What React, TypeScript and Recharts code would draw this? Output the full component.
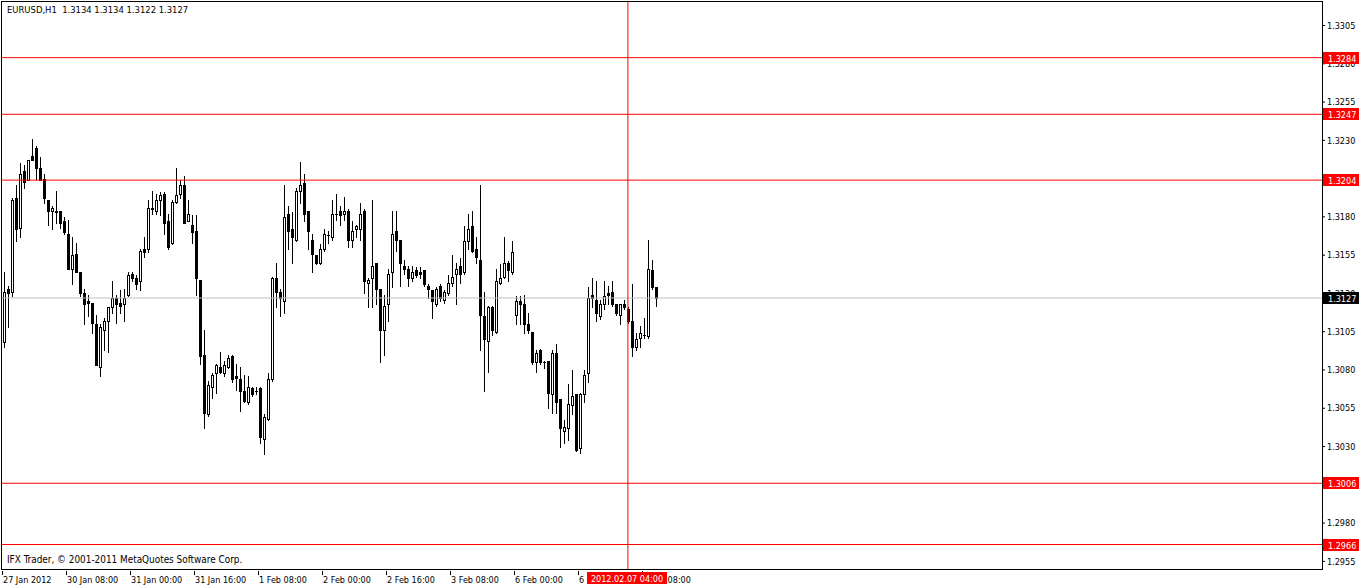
import { ComposedChart, Bar, XAxis, YAxis, ReferenceLine } from 'recharts'

const FONT = "'DejaVu Sans Condensed', 'Liberation Sans', sans-serif"

// EURUSD H1, first bar 27 Jan 2012 16:00, last 7 Feb 2012 11:00
const opens = [
  1.3098, 1.3133, 1.3131, 1.3192, 1.3173, 1.3210, 1.3204, 1.3220, 1.3225, 1.3212, 1.3205, 1.3191, 1.3184, 1.3184, 1.3184, 1.3177,
  1.3169, 1.3146, 1.3156, 1.3144, 1.3130, 1.3125, 1.3124, 1.3110, 1.3082, 1.3106, 1.3112, 1.3121, 1.3127, 1.3124, 1.3123, 1.3129,
  1.3143, 1.3140, 1.3138, 1.3159, 1.3159, 1.3185, 1.3184, 1.3191, 1.3195, 1.3177, 1.3163, 1.3190, 1.3195, 1.3201, 1.3177, 1.3175,
  1.3171, 1.3139, 1.3090, 1.3051, 1.3069, 1.3078, 1.3082, 1.3078, 1.3082, 1.3089, 1.3076, 1.3074, 1.3066, 1.3059, 1.3068, 1.3066,
  1.3068, 1.3035, 1.3048, 1.3074, 1.3140, 1.3131, 1.3125, 1.3182, 1.3172, 1.3165, 1.3197, 1.3202, 1.3184, 1.3165, 1.3155, 1.3150,
  1.3159, 1.3168, 1.3167, 1.3182, 1.3184, 1.3182, 1.3184, 1.3165, 1.3172, 1.3172, 1.3184, 1.3137, 1.3140, 1.3150, 1.3133, 1.3106,
  1.3123, 1.3144, 1.3171, 1.3165, 1.3148, 1.3146, 1.3140, 1.3145, 1.3144, 1.3145, 1.3135, 1.3132, 1.3123, 1.3135, 1.3126, 1.3130,
  1.3137, 1.3143, 1.3148, 1.3144, 1.3164, 1.3174, 1.3159, 1.3152, 1.3115, 1.3099, 1.3121, 1.3105, 1.3137, 1.3141, 1.3150, 1.3144,
  1.3116, 1.3125, 1.3123, 1.3110, 1.3105, 1.3085, 1.3093, 1.3085, 1.3086, 1.3064, 1.3091, 1.3061, 1.3040, 1.3042, 1.3057, 1.3064,
  1.3029, 1.3064, 1.3078, 1.3129, 1.3126, 1.3115, 1.3123, 1.3130, 1.3131, 1.3123, 1.3116, 1.3123, 1.3120, 1.3112, 1.3095, 1.3101,
  1.3103, 1.3102, 1.3145, 1.3134,
]
const highs = [
  1.3144, 1.3135, 1.3192, 1.3201, 1.3215, 1.3214, 1.3217, 1.3231, 1.3226, 1.3219, 1.3208, 1.3191, 1.3187, 1.3197, 1.3184, 1.3180,
  1.3178, 1.3167, 1.3163, 1.3144, 1.3133, 1.3129, 1.3124, 1.3116, 1.3110, 1.3114, 1.3121, 1.3138, 1.3129, 1.3132, 1.3133, 1.3144,
  1.3144, 1.3142, 1.3159, 1.3167, 1.3191, 1.3197, 1.3195, 1.3196, 1.3196, 1.3182, 1.3191, 1.3212, 1.3204, 1.3207, 1.3191, 1.3181,
  1.3181, 1.3139, 1.3106, 1.3073, 1.3078, 1.3084, 1.3092, 1.3086, 1.3090, 1.3090, 1.3084, 1.3082, 1.3077, 1.3076, 1.3069, 1.3069,
  1.3069, 1.3051, 1.3078, 1.3141, 1.3150, 1.3133, 1.3201, 1.3187, 1.3183, 1.3199, 1.3216, 1.3208, 1.3184, 1.3169, 1.3155, 1.3162,
  1.3172, 1.3171, 1.3191, 1.3195, 1.3187, 1.3193, 1.3185, 1.3177, 1.3175, 1.3189, 1.3185, 1.3140, 1.3191, 1.3150, 1.3133, 1.3129,
  1.3146, 1.3184, 1.3184, 1.3165, 1.3152, 1.3148, 1.3148, 1.3147, 1.3147, 1.3145, 1.3136, 1.3132, 1.3134, 1.3136, 1.3132, 1.3142,
  1.3155, 1.3150, 1.3153, 1.3174, 1.3182, 1.3184, 1.3167, 1.3201, 1.3131, 1.3122, 1.3122, 1.3146, 1.3149, 1.3167, 1.3151, 1.3164,
  1.3128, 1.3128, 1.3129, 1.3117, 1.3105, 1.3093, 1.3094, 1.3086, 1.3086, 1.3093, 1.3097, 1.3061, 1.3047, 1.3071, 1.3080, 1.3064,
  1.3065, 1.3080, 1.3134, 1.3140, 1.3138, 1.3126, 1.3138, 1.3135, 1.3138, 1.3123, 1.3123, 1.3126, 1.3121, 1.3136, 1.3104, 1.3109,
  1.3114, 1.3165, 1.3152, 1.3134,
]
const lows = [
  1.3095, 1.3108, 1.3128, 1.3164, 1.3167, 1.3199, 1.3204, 1.3217, 1.3205, 1.3204, 1.3189, 1.3175, 1.3172, 1.3176, 1.3173, 1.3169,
  1.3146, 1.3136, 1.3144, 1.3128, 1.3110, 1.3115, 1.3104, 1.3083, 1.3076, 1.3093, 1.3092, 1.3117, 1.3111, 1.3117, 1.3112, 1.3128,
  1.3138, 1.3133, 1.3132, 1.3154, 1.3157, 1.3182, 1.3182, 1.3181, 1.3169, 1.3159, 1.3162, 1.3189, 1.3192, 1.3176, 1.3177, 1.3163,
  1.3129, 1.3084, 1.3042, 1.3050, 1.3062, 1.3065, 1.3078, 1.3076, 1.3081, 1.3072, 1.3067, 1.3053, 1.3059, 1.3058, 1.3063, 1.3064,
  1.3032, 1.3025, 1.3047, 1.3073, 1.3121, 1.3115, 1.3117, 1.3159, 1.3150, 1.3164, 1.3189, 1.3177, 1.3159, 1.3144, 1.3149, 1.3149,
  1.3158, 1.3163, 1.3165, 1.3178, 1.3175, 1.3178, 1.3160, 1.3160, 1.3167, 1.3165, 1.3130, 1.3121, 1.3121, 1.3123, 1.3085, 1.3090,
  1.3112, 1.3134, 1.3158, 1.3135, 1.3143, 1.3135, 1.3138, 1.3141, 1.3140, 1.3135, 1.3127, 1.3114, 1.3122, 1.3125, 1.3124, 1.3129,
  1.3135, 1.3123, 1.3137, 1.3143, 1.3159, 1.3157, 1.3150, 1.3093, 1.3066, 1.3079, 1.3103, 1.3104, 1.3136, 1.3140, 1.3138, 1.3143,
  1.3110, 1.3110, 1.3104, 1.3104, 1.3084, 1.3079, 1.3084, 1.3081, 1.3055, 1.3052, 1.3052, 1.3030, 1.3032, 1.3034, 1.3051, 1.3027,
  1.3026, 1.3059, 1.3072, 1.3121, 1.3112, 1.3113, 1.3120, 1.3123, 1.3122, 1.3116, 1.3110, 1.3120, 1.3111, 1.3089, 1.3093, 1.3095,
  1.3101, 1.3101, 1.3133, 1.3122,
]
const closes = [
  1.3131, 1.3130, 1.3191, 1.3172, 1.3208, 1.3203, 1.3217, 1.3217, 1.3212, 1.3204, 1.3192, 1.3184, 1.3186, 1.3183, 1.3176, 1.3170,
  1.3146, 1.3155, 1.3144, 1.3130, 1.3123, 1.3124, 1.3111, 1.3083, 1.3108, 1.3112, 1.3121, 1.3127, 1.3123, 1.3122, 1.3127, 1.3142,
  1.3140, 1.3136, 1.3158, 1.3157, 1.3186, 1.3186, 1.3191, 1.3194, 1.3176, 1.3160, 1.3190, 1.3194, 1.3201, 1.3176, 1.3182, 1.3170,
  1.3140, 1.3089, 1.3052, 1.3070, 1.3077, 1.3083, 1.3079, 1.3083, 1.3088, 1.3074, 1.3075, 1.3066, 1.3060, 1.3069, 1.3064, 1.3066,
  1.3036, 1.3049, 1.3074, 1.3140, 1.3131, 1.3127, 1.3180, 1.3171, 1.3167, 1.3197, 1.3201, 1.3182, 1.3171, 1.3156, 1.3150, 1.3159,
  1.3169, 1.3168, 1.3182, 1.3182, 1.3181, 1.3184, 1.3165, 1.3171, 1.3174, 1.3182, 1.3138, 1.3139, 1.3148, 1.3133, 1.3106, 1.3122,
  1.3143, 1.3169, 1.3165, 1.3150, 1.3146, 1.3140, 1.3144, 1.3142, 1.3143, 1.3136, 1.3133, 1.3125, 1.3133, 1.3127, 1.3131, 1.3137,
  1.3141, 1.3146, 1.3143, 1.3164, 1.3172, 1.3158, 1.3154, 1.3116, 1.3100, 1.3121, 1.3106, 1.3138, 1.3140, 1.3150, 1.3145, 1.3157,
  1.3125, 1.3123, 1.3110, 1.3106, 1.3085, 1.3091, 1.3085, 1.3085, 1.3065, 1.3091, 1.3059, 1.3042, 1.3043, 1.3058, 1.3063, 1.3028,
  1.3064, 1.3077, 1.3127, 1.3127, 1.3117, 1.3123, 1.3128, 1.3129, 1.3123, 1.3117, 1.3123, 1.3121, 1.3112, 1.3095, 1.3100, 1.3104,
  1.3103, 1.3146, 1.3134, 1.3127,
]

// bar slots visible across the chart width (data only fills the first part)
const SLOTS = 330

const xTickIdx = [0, 16, 32, 48, 64, 80, 96, 112, 128, 144, 160]
const xTickText = [
  '27 Jan 2012', '30 Jan 08:00', '31 Jan 00:00', '31 Jan 16:00', '1 Feb 08:00', '2 Feb 00:00',
  '2 Feb 16:00', '3 Feb 08:00', '6 Feb 00:00', '6 Feb 16:00', '7 Feb 08:00',
]
const yTicks = [
  1.2955, 1.2980, 1.3005, 1.3030, 1.3055, 1.3080, 1.3105, 1.3130, 1.3155, 1.3180, 1.3205, 1.3230, 1.3255, 1.3280, 1.3305,
]
const levels = [1.3284, 1.3247, 1.3204, 1.3006, 1.2966]
const bid = 1.3127
const crossIdx = 156
const crossText = '2012.02.07 04:00'

const W = 1360
const H = 586
const MARGIN = { top: 1, right: 0, left: 2, bottom: 0 }
const DOMAIN: [number, number] = [1.295, 1.3321]

const data = Array.from({ length: SLOTS }, (_, i) =>
  i < opens.length
    ? { i, o: opens[i], h: highs[i], l: lows[i], c: closes[i], range: [lows[i], highs[i]] }
    : { i, range: null }
)

function Candle(props: any) {
  const { x, y, width, height, payload } = props
  if (!payload || payload.o == null) return null
  const { o, h, l, c } = payload
  const top = Math.min(y, y + height)
  const span = Math.abs(height)
  const k = h === l ? 0 : span / (h - l)
  const yOf = (v: number) => Math.round(top + (h - v) * k)
  const cx = Math.floor(x + width / 2)
  const yH = Math.round(top)
  const yL = Math.round(top + span)
  const bTop = Math.min(yOf(o), yOf(c))
  const bBot = Math.max(yOf(o), yOf(c))
  let body
  if (c < o || bBot - bTop < 2) {
    body = <rect x={cx - 1} y={bTop} width={3} height={Math.max(1, bBot - bTop + 1)} fill="#000" />
  } else {
    body = <rect x={cx - 0.5} y={bTop + 0.5} width={2} height={bBot - bTop} fill="#fff" stroke="#000" strokeWidth={1} />
  }
  return (
    <g shapeRendering="crispEdges">
      <rect x={cx} y={yH} width={1} height={Math.max(1, yL - yH + 1)} fill="#000" />
      {body}
    </g>
  )
}

function PriceTag(props: any) {
  const { viewBox, text, bg } = props
  if (!viewBox) return null
  const x = viewBox.x + viewBox.width + 1
  const y = Math.round(viewBox.y)
  return (
    <g>
      <rect x={x} y={y - 6} width={36} height={12} fill={bg} />
      <text x={x + 5} y={y + 4} fontSize={9} fontFamily={FONT} fill="#fff">{text}</text>
    </g>
  )
}

function TimeTag(props: any) {
  const { viewBox } = props
  if (!viewBox) return null
  const x = Math.round(viewBox.x)
  const y = viewBox.y + viewBox.height
  return (
    <g>
      <rect x={x - 41} y={y + 3} width={80} height={12} fill="#ff0000" />
      <text x={x - 1} y={y + 12.5} textAnchor="middle" fontSize={9} fontFamily={FONT} fill="#fff">{crossText}</text>
    </g>
  )
}

function TimeTick(props: any) {
  const { x, y, payload } = props
  const k = xTickIdx.indexOf(payload.value)
  if (k < 0) return null
  return (
    <g>
      <rect x={Math.round(x) - 2} y={y - 3} width={1} height={4} fill="#000" />
      <text x={x - 1} y={y + 9} fontSize={9} fontFamily={FONT} fill="#000">{xTickText[k]}</text>
    </g>
  )
}

export default function App() {
  return (
    <div style={{ position: 'relative', width: W, height: H, background: '#fff' }}>
      <style>{'body{margin:0}'}</style>
      <ComposedChart width={W} height={H} data={data} margin={MARGIN} barCategoryGap={0}>
        <XAxis
          dataKey="i"
          type="category"
          ticks={xTickIdx}
          interval={0}
          height={17}
          axisLine={false}
          tickLine={false}
          tickSize={3}
          tick={<TimeTick />}
        />
        <YAxis
          orientation="right"
          width={38}
          domain={DOMAIN}
          ticks={yTicks}
          allowDataOverflow
          axisLine={false}
          tickLine={{ stroke: '#000' }}
          tickSize={3}
          tickMargin={2}
          tickFormatter={(v) => v.toFixed(4)}
          tick={{ fontSize: 9, fill: '#000', fontFamily: FONT }}
        />
        <Bar dataKey="range" barSize={3} isAnimationActive={false} shape={<Candle />} />
      </ComposedChart>
      {/* overlay: level lines, crosshair and their tags sit above candles and axis labels */}
      <div style={{ position: 'absolute', left: 0, top: 0 }}>
        <ComposedChart width={W} height={H} data={data} margin={MARGIN} barCategoryGap={0}>
          <XAxis dataKey="i" type="category" height={17} axisLine={false} tickLine={false} tick={false} />
          <YAxis orientation="right" width={38} domain={DOMAIN} allowDataOverflow axisLine={false} tickLine={false} tick={false} />
          <ReferenceLine y={bid} stroke="#c0c0c0" label={<PriceTag text={bid.toFixed(4)} bg="#000" />} />
          {levels.map((v) => (
            <ReferenceLine key={v} y={v} stroke="#ff0000" label={<PriceTag text={v.toFixed(4)} bg="#ff0000" />} />
          ))}
          <ReferenceLine x={crossIdx} stroke="#ff0000" label={<TimeTag />} />
        </ComposedChart>
      </div>
      <div
        style={{
          position: 'absolute', left: 1, top: 1, width: 1322, height: 569, boxSizing: 'border-box',
          border: '1px solid #000', pointerEvents: 'none',
        }}
      />
      <div style={{ position: 'absolute', left: 7, top: 4, fontSize: 9.4, fontFamily: FONT, color: '#000', whiteSpace: 'pre', lineHeight: '12px' }}>
        {'EURUSD,H1  1.3134 1.3134 1.3122 1.3127'}
      </div>
      <div style={{ position: 'absolute', left: 7, top: 554, fontSize: 9.9, fontFamily: FONT, color: '#000', lineHeight: '12px' }}>
        IFX Trader, © 2001-2011 MetaQuotes Software Corp.
      </div>
    </div>
  )
}
